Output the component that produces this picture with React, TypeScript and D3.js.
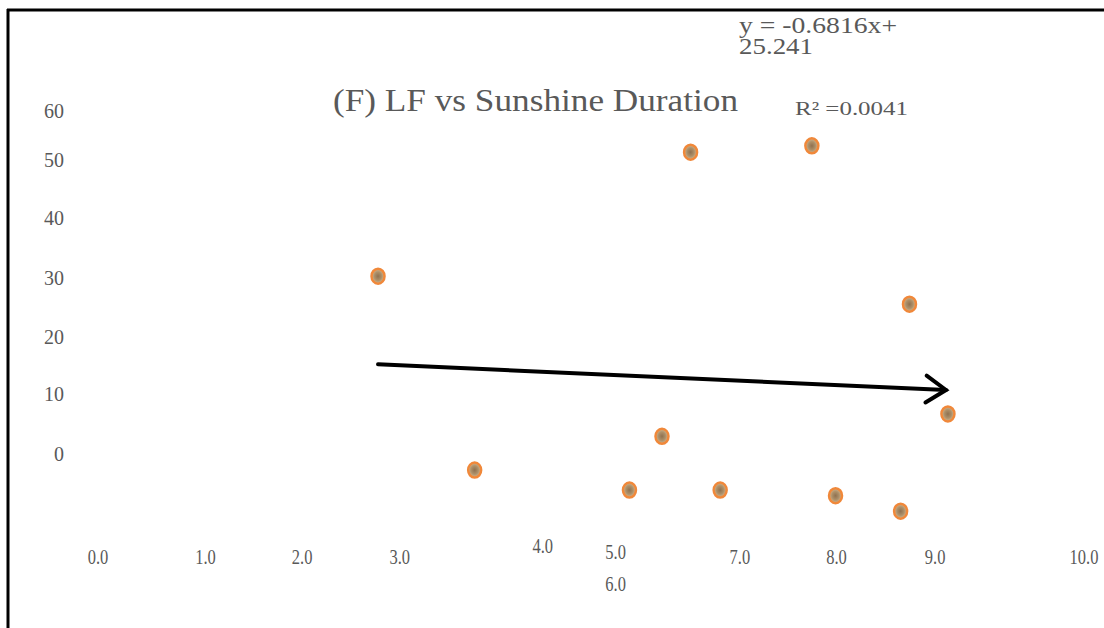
import React, { useEffect, useRef } from "react";
import * as d3 from "d3";

// sunshine duration (h) vs LF
const sunshine = [2.84, 3.82, 5.39, 5.72, 6.01, 6.31, 7.24, 7.48, 8.14, 8.23, 8.62];
const lf = [31.1, -2.8, -6.3, 3.1, 52.8, -6.3, 53.9, -7.3, -10.0, 26.2, 7.0];

// tick labels and where they sit along the axis (the source layout is irregular)
const xTickLabels = ["0.0", "1.0", "2.0", "3.0", "4.0", "5.0", "6.0", "7.0", "8.0", "9.0", "10.0"];
const xTickAt = [0, 1.09, 2.07, 3.06, 4.51, 5.25, 5.25, 6.51, 7.49, 8.49, 10];
const xTickRow = [0, 0, 0, 0, -0.4, -0.2, 1, 0, 0, 0, 0];
const yTickLabels = ["60", "50", "40", "30", "20", "10", "0"];
const yTickAt = [60, 51.5, 41.3, 30.8, 20.5, 10.5, 0];

// hand drawn trend arrow [x, y] in data units
const arrowFrom = [2.84, 15.7];
const arrowTo = [8.6, 11.2];

const SERIF = "'Liberation Serif', 'Times New Roman', serif";
const GREY = "#595959";

export default function App() {
  const ref = useRef<SVGSVGElement>(null);

  useEffect(() => {
    const svg = d3.select(ref.current);
    svg.selectAll("*").remove();

    const x = d3.scaleLinear().domain([0, 10]).range([98, 1084]);
    const y = d3.scaleLinear().domain([0, 60]).range([454, 111]);

    svg.append("rect").attr("width", 1104).attr("height", 628).style("fill", "#fff");

    // frame
    svg.append("line").attr("x1", 7).attr("y1", 10).attr("x2", 1104).attr("y2", 10)
      .style("stroke", "#000").style("stroke-width", 3);
    svg.append("line").attr("x1", 8).attr("y1", 9).attr("x2", 8).attr("y2", 628)
      .style("stroke", "#000").style("stroke-width", 3);

    const defs = svg.append("defs");
    const grad = defs.append("radialGradient").attr("id", "dot");
    grad.append("stop").attr("offset", "0%").attr("stop-color", "#8f7150");
    grad.append("stop").attr("offset", "55%").attr("stop-color", "#ad9069");
    grad.append("stop").attr("offset", "100%").attr("stop-color", "#d2b993");

    // y labels
    svg.selectAll("text.yl")
      .data(yTickLabels)
      .enter()
      .append("text")
      .attr("x", 64)
      .attr("y", (d, i) => y(yTickAt[i]) + 7)
      .attr("text-anchor", "end")
      .style("font-family", SERIF)
      .style("font-size", "20px")
      .style("fill", GREY)
      .text(d => d);

    // x labels (narrow, tall glyphs)
    svg.selectAll("text.xl")
      .data(xTickLabels)
      .enter()
      .append("text")
      .attr("transform", (d, i) => `translate(${x(xTickAt[i])},${564 + xTickRow[i] * 27}) scale(0.75,1)`)
      .attr("text-anchor", "middle")
      .style("font-family", SERIF)
      .style("font-size", "22px")
      .style("fill", GREY)
      .text(d => d);

    // title and regression text
    svg.append("text").attr("x", 333).attr("y", 111)
      .attr("textLength", 405).attr("lengthAdjust", "spacingAndGlyphs")
      .style("font-family", SERIF).style("font-size", "31px")
      .style("fill", GREY).text("(F) LF vs Sunshine Duration");
    svg.append("text").attr("x", 739).attr("y", 33)
      .attr("textLength", 158).attr("lengthAdjust", "spacingAndGlyphs")
      .style("font-family", SERIF).style("font-size", "23px")
      .style("fill", GREY).text("y = -0.6816x+");
    svg.append("text").attr("x", 739).attr("y", 54)
      .attr("textLength", 74).attr("lengthAdjust", "spacingAndGlyphs")
      .style("font-family", SERIF).style("font-size", "23px")
      .style("fill", GREY).text("25.241");
    svg.append("text").attr("x", 795).attr("y", 115)
      .attr("textLength", 113).attr("lengthAdjust", "spacingAndGlyphs")
      .style("font-family", SERIF).style("font-size", "19px")
      .style("fill", GREY).text("R² =0.0041");

    // arrow
    const ax1 = x(arrowFrom[0]), ay1 = y(arrowFrom[1]);
    const ax2 = x(arrowTo[0]), ay2 = y(arrowTo[1]);
    const ang = Math.atan2(ay2 - ay1, ax2 - ax1);
    svg.append("line").attr("x1", ax1).attr("y1", ay1).attr("x2", ax2).attr("y2", ay2)
      .style("stroke", "#000").style("stroke-width", 4).style("stroke-linecap", "round");
    const head = [ang + 2.55, ang - 2.55].map(a => [ax2 + 24 * Math.cos(a), ay2 + 24 * Math.sin(a)]);
    svg.append("path")
      .attr("d", `M${head[0][0]},${head[0][1]}L${ax2},${ay2}L${head[1][0]},${head[1][1]}`)
      .style("fill", "none").style("stroke", "#000").style("stroke-width", 4)
      .style("stroke-linecap", "round").style("stroke-linejoin", "miter");

    // points
    svg.selectAll("ellipse.pt")
      .data(sunshine)
      .enter()
      .append("ellipse")
      .attr("cx", (d) => x(d))
      .attr("cy", (d, i) => y(lf[i]))
      .attr("rx", 6.5)
      .attr("ry", 7.5)
      .style("fill", "url(#dot)")
      .style("stroke", "#f0883a")
      .style("stroke-width", 2.5);
  }, []);

  return (
    <svg ref={ref} width={1104} height={628}
      style={{ position: "absolute", left: 0, top: 0, display: "block" }}></svg>
  );
}
